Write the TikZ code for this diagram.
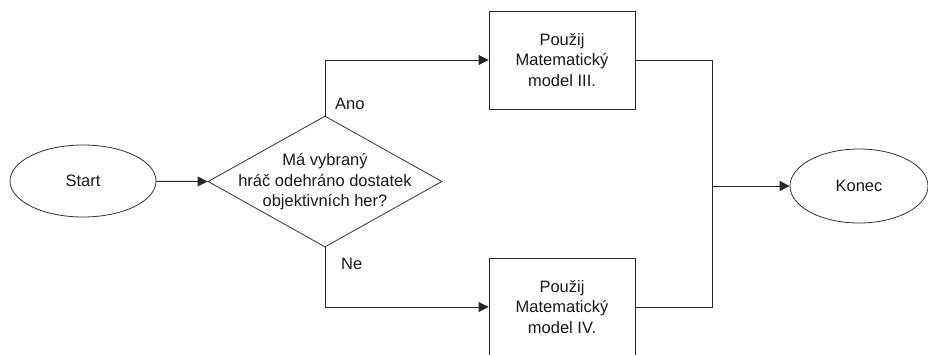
\documentclass[tikz,border=0pt]{standalone}
\usepackage{fontspec}
\setmainfont{Liberation Sans}
\usetikzlibrary{shapes.geometric,arrows.meta}
\begin{document}
\begin{tikzpicture}[x=1pt,y=-1pt,
  every node/.style={font=\fontsize{16.5}{20.5}\selectfont, text=black!90},
  term/.style={ellipse, draw=black!80, line width=0.8pt, inner sep=0pt},
  procbox/.style={rectangle, draw=black!85, line width=0.9pt, minimum width=146pt, minimum height=98pt, inner sep=0pt, align=center},
  decshape/.style={diamond, draw=black!80, line width=0.8pt, minimum width=234pt, minimum height=131pt, inner sep=0pt},
  conn/.style={draw=black!85, line width=0.9pt},
  arr/.style={conn, -{Triangle[length=10pt,width=10pt]}},
  lbl/.style={inner sep=0pt}
]
\useasboundingbox (0,0) rectangle (928,354);
\node[term, minimum width=146pt, minimum height=72pt] (start) at (83,181) {Start};
\node[decshape] (dec) at (325,181.5) {};
\node[align=center, inner sep=0pt] (dectext) at (325,182) {Má vybraný\\hráč odehráno dostatek\\objektivních her?};
\node[procbox] (top) at (562,60) {Použij\\Matematický\\model III.};
\node[procbox] (bot) at (562,307) {Použij\\Matematický\\model IV.};
\node[term, minimum width=138pt, minimum height=74pt] (end) at (859,186) {Konec};
\coordinate (j) at (712,186);
\draw[arr] (start) -- (dec.west);
\draw[arr] (dec.north) |- (top.west);
\draw[arr] (dec.south) |- (bot.west);
\draw[conn] (top.east) -| (j);
\draw[conn] (bot.east) -| (j);
\draw[arr] (j) -- (end.west);
\node[lbl, anchor=west] (ano) at (335,104) {Ano};
\node[lbl, anchor=west] (ne) at (341,264) {Ne};
\end{tikzpicture}
\end{document}
